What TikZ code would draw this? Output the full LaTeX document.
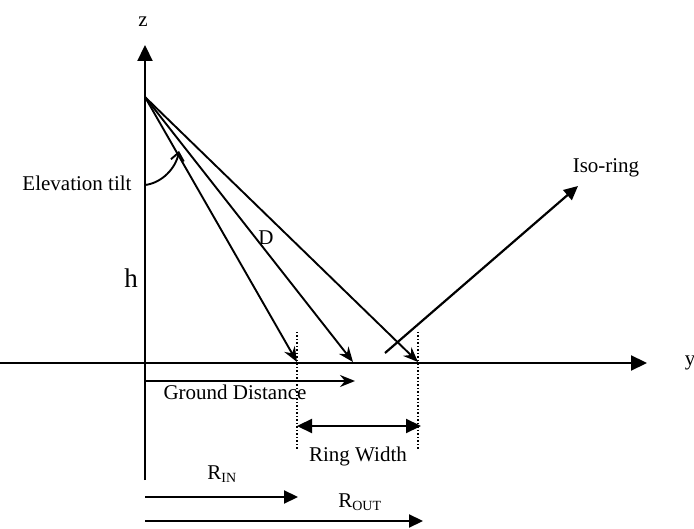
\documentclass[tikz,border=0pt]{standalone}
\usepackage{fontspec}
\setmainfont{Liberation Serif}
\usetikzlibrary{arrows.meta}
\begin{document}
\begin{tikzpicture}[x=1pt,y=-1pt,
  every node/.style={font=\fontsize{21}{25}\selectfont, inner sep=0pt},
  axis/.style={line width=2.2pt, -{Triangle[length=16pt,width=15pt]}},
  ray/.style={line width=1.9pt, -{Stealth[length=15pt,width=12pt,inset=5pt]}},
  bigarrow/.style={line width=2.2pt, -{Triangle[length=14pt,width=13pt]}},
  dimline/.style={line width=1.5pt, dotted}]
\useasboundingbox (0,0) rectangle (694,529);
% coordinates
\coordinate (zbot) at (145,480);
\coordinate (ztop) at (145,45);
\coordinate (yl) at (0,363);
\coordinate (yr) at (647,363);
\coordinate (src) at (145,97);
\coordinate (g1) at (297,362);
\coordinate (g2) at (353,362);
\coordinate (g3) at (418,362);
\coordinate (d1t) at (297,332);
\coordinate (d1b) at (297,449);
\coordinate (d2t) at (418,332);
\coordinate (d2b) at (418,449);
% labels
\node (zlab) at (143,22) {z};
\node (ylab) at (690,363) {y};
\node (elev) at (77,183) {Elevation tilt};
\node (hlab) at (131,278) {\fontsize{27}{31}\selectfont h};
\node (dlab) at (266,238) {D};
\node (iso) at (606,168) {Iso-ring};
\node (gd) at (235,392) {Ground Distance};
\node (rw) at (358,456) {Ring Width};
\node (rin) at (222,474) {R\textsubscript{\fontsize{14}{16}\selectfont IN}};
\node (rout) at (360,502) {R\textsubscript{\fontsize{14}{16}\selectfont OUT}};
% axes
\draw[axis] (zbot) -- (ztop);
\draw[axis] (yl) -- (yr);
% rays
\draw[ray] (src) -- (g1);
\draw[ray] (src) -- (g2);
\draw[ray] (src) -- (g3);
% elevation tilt arc
\coordinate (a0) at (145,185);
\coordinate (a1) at (179,151);
\draw[line width=1.9pt, -{Straight Barb[length=8pt,width=13pt]}] (a0) .. controls (162,183) and (176,168) .. (a1);
% dotted verticals
\draw[dimline] (d1t) -- (d1b);
\draw[dimline] (d2t) -- (d2b);
% ground distance
\coordinate (gd0) at (145,381);
\coordinate (gd1) at (355,381);
\draw[ray] (gd0) -- (gd1);
% ring width
\coordinate (rw0) at (297,426);
\coordinate (rw1) at (421,426);
\draw[line width=2.2pt, {Triangle[length=15pt,width=14pt]}-{Triangle[length=15pt,width=14pt]}] (rw0) -- (rw1);
% R in / out
\coordinate (ri0) at (145,497);
\coordinate (ri1) at (298,497);
\coordinate (ro0) at (145,521);
\coordinate (ro1) at (423,521);
\draw[bigarrow] (ri0) -- (ri1);
\draw[bigarrow] (ro0) -- (ro1);
% iso-ring
\coordinate (is0) at (385,353);
\coordinate (is1) at (578,186);
\draw[bigarrow] (is0) -- (is1);
\end{tikzpicture}
\end{document}
